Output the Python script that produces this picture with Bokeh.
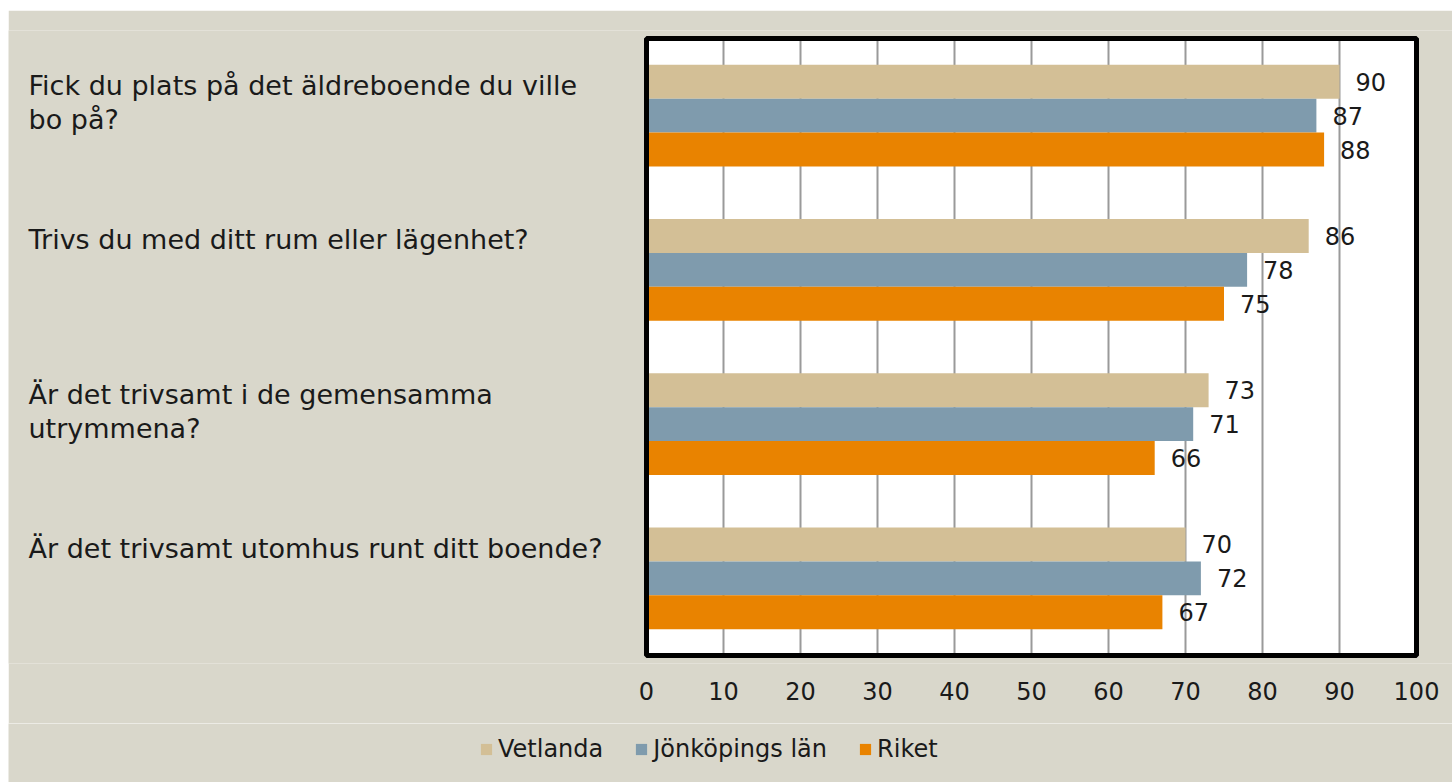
from bokeh.plotting import figure
from bokeh.layouts import column
from bokeh.models import Range1d, Legend, LegendItem, ColumnDataSource, FixedTicker
from bokeh.embed import file_html
from bokeh.resources import INLINE
from bokeh.core.properties import value

questions = [
    "Fick du plats på det äldreboende du ville\nbo på?",
    "Trivs du med ditt rum eller lägenhet?",
    "Är det trivsamt i de gemensamma\nutrymmena?",
    "Är det trivsamt utomhus runt ditt boende?",
]
series = ["Vetlanda", "Jönköpings län", "Riket"]
vetlanda = [90, 86, 73, 70]
jonkoping = [87, 78, 71, 72]
riket = [88, 75, 66, 67]
ticks = [0, 10, 20, 30, 40, 50, 60, 70, 80, 90, 100]
colors = ["#D3BF96", "#7F9BAD", "#E98300"]

FONT = "DejaVu Sans"
BG = "#D9D7CB"
TXT = "#1a1a1a"
GRID = "#9A9A9A"

# layout constants (screen px)
FIG_W = 1444
PLOT_L, PLOT_R = 638, 1408       # white plot area inside the figure
PX_PER_UNIT = (PLOT_R - PLOT_L) / 100.0
PLOT_TOP, PLOT_H = 28, 617
PAD = 8                           # frame extends PAD px beyond the white area
BOTTOM = 60
n_cat = len(questions)
unit_px = PLOT_H / float(n_cat)
pad_u = PAD / unit_px

x_lo = -PLOT_L / PX_PER_UNIT
x_hi = 100 + (FIG_W - PLOT_R) / PX_PER_UNIT

p = figure(frame_width=FIG_W, frame_height=PLOT_H + 2 * PAD,
           x_range=Range1d(x_lo, x_hi), y_range=Range1d(n_cat + pad_u, -pad_u),
           output_backend="svg", toolbar_location=None,
           min_border_left=0, min_border_right=0, min_border_top=PLOT_TOP - PAD,
           min_border_bottom=BOTTOM)
p.margin = (10, 0, 0, 8)
p.background_fill_color = BG
p.border_fill_color = BG
p.outline_line_color = None
p.xgrid.visible = False
p.ygrid.visible = False
p.yaxis.visible = False

# white plot area and vertical grid lines
p.quad(left=0, right=100, top=0, bottom=n_cat, fill_color="white", line_color=None)
p.segment(x0=ticks, x1=ticks, y0=[0] * len(ticks), y1=[n_cat] * len(ticks),
          line_color=GRID, line_width=2)

bar_h = 0.22
offsets = [-bar_h, 0.0, bar_h]
for vals, off, col in zip([vetlanda, jonkoping, riket], offsets, colors):
    ys = [i + 0.5 + off for i in range(n_cat)]
    src = ColumnDataSource(dict(y=ys, right=vals, lab=[str(v) for v in vals]))
    p.hbar(y="y", left=0, right="right", height=bar_h, source=src,
           fill_color=col, line_color=None)
    p.text(x="right", y="y", text="lab", source=src, x_offset=16,
           text_align="left", text_baseline="middle",
           text_font=value(FONT), text_font_size="24px", text_color=TXT)

# black frame around the plot area
p.quad(left=0, right=100, top=0, bottom=n_cat, fill_color=None,
       line_color="black", line_width=5)

# category labels (left-aligned text column)
lx, ly, lt = [], [], []
for i, q in enumerate(questions):
    for j, line in enumerate(q.split("\n")):
        lx.append(x_lo + 20 / PX_PER_UNIT)
        ly.append(i + 0.5 + (-30 + 34 * j) / unit_px)
        lt.append(line)
p.text(x=lx, y=ly, text=lt, text_align="left", text_baseline="middle",
       text_font=value(FONT), text_font_size="27px", text_color=TXT)

p.xaxis.ticker = FixedTicker(ticks=ticks)
p.xaxis.axis_line_color = None
p.xaxis.major_tick_line_color = None
p.xaxis.minor_tick_line_color = None
p.xaxis.major_label_standoff = 20 - PAD
p.xaxis.major_label_text_font = FONT
p.xaxis.major_label_text_font_size = "24px"
p.xaxis.major_label_text_color = TXT

# legend strip below the chart
LEG_H = 782 - 10 - (PLOT_TOP - PAD) - (PLOT_H + 2 * PAD) - BOTTOM
lp = figure(frame_width=FIG_W, frame_height=LEG_H, x_range=Range1d(0, 1), y_range=Range1d(0, 1),
            output_backend="svg", toolbar_location=None,
            min_border_left=0, min_border_right=0, min_border_top=0, min_border_bottom=0)
lp.margin = (0, 0, 0, 8)
lp.background_fill_color = BG
lp.border_fill_color = BG
lp.outline_line_color = None
lp.axis.visible = False
lp.grid.visible = False
# legend key renderers (kept outside the visible range of this strip)
leg_renderers = [lp.hbar(y=[-1], left=[0], right=[1], height=0.5, fill_color=c, line_color=None)
                 for c in colors]

legend = Legend(items=[LegendItem(label=s, renderers=[r]) for s, r in zip(series, leg_renderers)],
                orientation="horizontal", location=(471, 19),
                background_fill_alpha=0, border_line_color=None,
                label_text_font=FONT, label_text_font_size="24px", label_text_color=TXT,
                glyph_width=14, glyph_height=14, spacing=31, label_standoff=5,
                margin=0, padding=6)
lp.add_layout(legend)

layout = column(p, lp, spacing=0)
open("out.html", "w").write(file_html(layout, INLINE))
